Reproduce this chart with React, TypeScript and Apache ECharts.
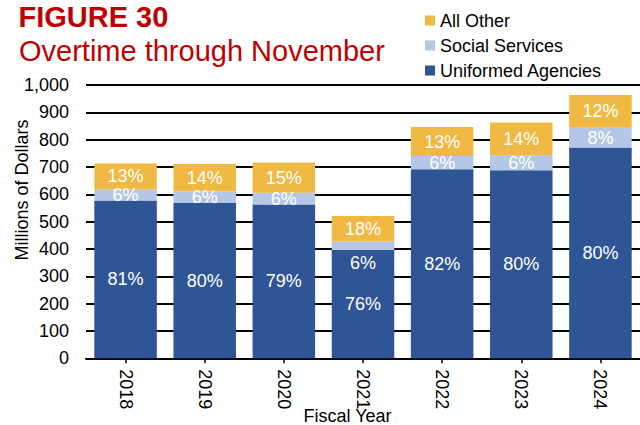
import React, { useEffect, useRef } from "react";
import * as echarts from "echarts";

const years = ["2018", "2019", "2020", "2021", "2022", "2023", "2024"];
const uniformed = [577, 568, 563, 396, 692, 688, 771];
const social = [41, 42, 43, 31, 48, 55, 73];
const other = [95, 101, 110, 94, 106, 120, 119];
const uniformedPct = ["81%", "80%", "79%", "76%", "82%", "80%", "80%"];
const socialPct = ["6%", "6%", "6%", "6%", "6%", "6%", "8%"];
const otherPct = ["13%", "14%", "15%", "18%", "13%", "14%", "12%"];
const yTicks = [0, 100, 200, 300, 400, 500, 600, 700, 800, 900, 1000];

const FONT = "'Liberation Sans', Arial, Helvetica, sans-serif";
const RED = "#C00000";
const C_UNI = "#2F5597";
const C_SOC = "#B4C7E7";
const C_OTH = "#F0B944";

export default function App() {
  const ref = useRef<HTMLDivElement>(null);
  useEffect(() => {
    if (!ref.current) return;
    const chart = echarts.init(ref.current, null, { renderer: "svg" });
    const barLabel = (arr: string[]) => ({
      show: true,
      position: "inside",
      color: "#fff",
      fontSize: 18,
      fontFamily: FONT,
      formatter: (p: any) => arr[p.dataIndex],
    });
    chart.setOption({
      animation: false,
      textStyle: { fontFamily: FONT },
      title: [
        {
          text: "FIGURE 30",
          left: 18.5,
          top: 2,
          padding: 0,
          textStyle: { color: RED, fontSize: 29, fontWeight: "bold", fontFamily: FONT, lineHeight: 29 },
        },
        {
          text: "Overtime through November",
          left: 19,
          top: 36.5,
          padding: 0,
          textStyle: { color: RED, fontSize: 29, fontWeight: "normal", fontFamily: FONT, lineHeight: 29 },
        },
      ],
      legend: {
        orient: "vertical",
        left: 425,
        top: 11,
        padding: 0,
        itemWidth: 10,
        itemHeight: 10,
        itemGap: 6,
        icon: "rect",
        data: ["All Other", "Social Services", "Uniformed Agencies"],
        textStyle: { fontSize: 18, color: "#000", fontFamily: FONT, lineHeight: 19 },
      },
      grid: { left: 86, right: 0, top: 85, bottom: 66.7, containLabel: false },
      xAxis: {
        type: "category",
        data: years,
        axisLine: { show: true, lineStyle: { color: "#000", width: 2 } },
        axisTick: { show: true, alignWithLabel: true, length: 5, lineStyle: { color: "#000", width: 1.5 } },
        axisLabel: { rotate: -90, fontSize: 18, color: "#000", margin: 11, fontFamily: FONT },
      },
      yAxis: {
        type: "value",
        min: yTicks[0],
        max: yTicks[yTicks.length - 1],
        interval: 100,
        axisLine: { show: false },
        axisTick: { show: false },
        axisLabel: {
          fontSize: 18,
          color: "#000",
          margin: 17,
          fontFamily: FONT,
          formatter: (v: number) => v.toLocaleString("en-US"),
        },
        splitLine: { show: true, lineStyle: { color: "#000", width: 2 } },
      },
      series: [
        {
          name: "Uniformed Agencies",
          type: "bar",
          stack: "total",
          barCategoryGap: "21%",
          itemStyle: { color: C_UNI },
          label: barLabel(uniformedPct),
          data: uniformed,
        },
        {
          name: "Social Services",
          type: "bar",
          stack: "total",
          barCategoryGap: "21%",
          itemStyle: { color: C_SOC },
          label: barLabel(socialPct),
          data: social.map((v, i) => (i === 3 ? { value: v, label: { offset: [0, 17] } } : v)),
        },
        {
          name: "All Other",
          type: "bar",
          stack: "total",
          barCategoryGap: "21%",
          itemStyle: { color: C_OTH },
          label: barLabel(otherPct),
          data: other,
        },
      ],
      graphic: [
        {
          type: "text",
          x: 21.5,
          y: 190,
          rotation: Math.PI / 2,
          style: {
            text: "Millions of Dollars",
            fontSize: 18,
            fontFamily: FONT,
            fill: "#000",
            align: "center",
            verticalAlign: "middle",
          },
        },
        {
          type: "text",
          x: 347.5,
          y: 415.5,
          style: {
            text: "Fiscal Year",
            fontSize: 18,
            fontFamily: FONT,
            fill: "#000",
            align: "center",
            verticalAlign: "middle",
          },
        },
      ],
    });
    return () => chart.dispose();
  }, []);
  return (
    <div
      ref={ref}
      style={{ position: "fixed", left: 0, top: 0, width: 640, height: 425, background: "#fff" }}
    />
  );
}
